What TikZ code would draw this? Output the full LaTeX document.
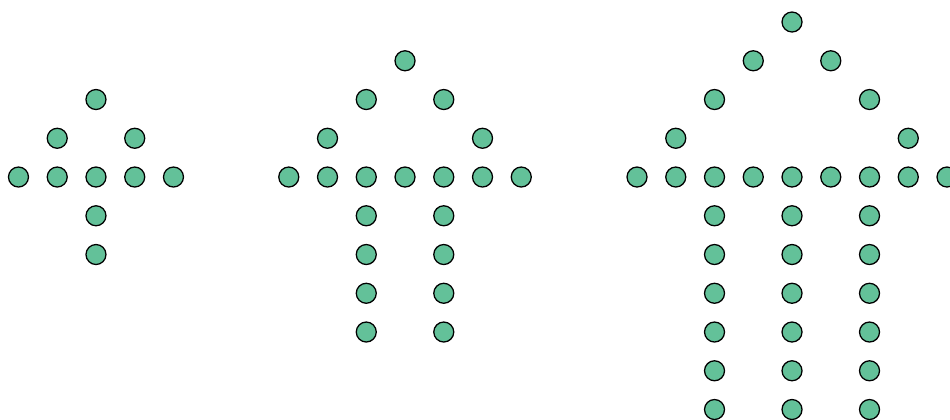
\documentclass[tikz,border=0pt]{standalone}
\usetikzlibrary{positioning}
\definecolor{dotgreen}{RGB}{99,193,153}

\begin{document}
\begin{tikzpicture}[
    x=0.969cm, y=0.969cm,
    dot/.style={circle, draw, fill=dotgreen, line width=0.9pt, minimum size=0.5cm, inner sep=0pt}
]
    \useasboundingbox (0,0) rectangle (24.516,-10.813);
    \clip (0,0) rectangle (24.516,-10.813);
    \def\ybar{-4.568}

    \foreach \name/\k/\cx/\ncol/\depth in {a/2/2.477/0/2, b/3/10.452/1/4, c/4/20.439/2/6} {
        % bar
        \foreach \i in {-\k,...,\k}
            \node[dot] (\name-bar\i) at ({\cx+\i}, \ybar) {};
        % arrow head
        \pgfmathtruncatemacro\km{\k-1}
        \foreach \j in {1,...,\km} {
            \node[dot] (\name-l\j) at ({\cx-\k+\j}, {\ybar+\j}) {};
            \node[dot] (\name-r\j) at ({\cx+\k-\j}, {\ybar+\j}) {};
        }
        \node[dot] (\name-top) at (\cx, {\ybar+\k}) {};
        % shafts
        \foreach \c in {0,...,\ncol}
            \foreach \r in {1,...,\depth}
                \node[dot] (\name-col\c-\r) at ({\cx-\k+2+2*\c}, {\ybar-\r}) {};
    }
\end{tikzpicture}
\end{document}
